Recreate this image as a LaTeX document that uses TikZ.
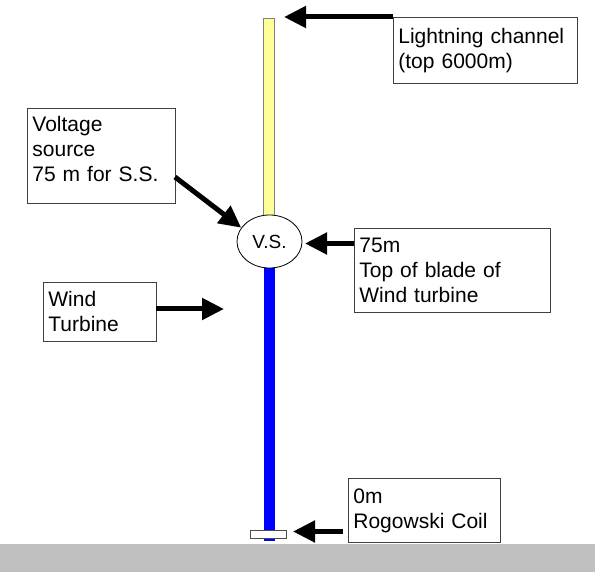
\documentclass[tikz,border=0pt]{standalone}
\usepackage{fontspec}
\setmainfont{Liberation Sans}
\usetikzlibrary{arrows.meta,shapes.geometric,calc}
\definecolor{groundgray}{RGB}{192,192,192}
\definecolor{chanyellow}{RGB}{255,255,153}
\definecolor{boxline}{RGB}{64,64,64}
\newcommand\boxfont{\fontsize{21}{25}\selectfont}
\tikzset{
  textbox/.style={draw=boxline, line width=0.8pt, fill=white, align=left,
    inner xsep=5pt, inner ysep=0pt, font=\boxfont, anchor=north west},
  bigarrow/.style={line width=5pt, -{Triangle[length=22pt,width=21pt]}},
  pole/.style={draw=none, minimum width=11pt, inner sep=0pt, anchor=north},
}
\begin{document}
\begin{tikzpicture}[x=1pt,y=-1pt]
\useasboundingbox (0,0) rectangle (595,572);
% ground
\fill[groundgray] (0,544) rectangle (595,572);
% poles
\node[pole, fill=chanyellow, draw=black!50, line width=0.6pt, minimum height=199pt] (chan) at (269,18) {};
\node[pole, fill=blue, minimum height=274pt] (tower) at (269,267) {};
% voltage source
\node[ellipse, draw=black, line width=0.8pt, fill=white, minimum width=65pt, minimum height=53pt,
      inner sep=0pt, font=\fontsize{19}{21}\selectfont] (vs) at (269.5,241.5) {V.S.};
% Rogowski coil
\node[draw=black!70, line width=0.8pt, fill=white, minimum width=36pt, minimum height=8pt, inner sep=0pt] (coil) at (268.5,534.5) {};
% boxes
\node[textbox, text width=174pt, minimum height=66pt] (lbox) at (393,17) {Lightning channel\\(top 6000m)};
\node[textbox, text width=138pt, minimum height=95pt] (vbox) at (27,108) {Voltage\\source\\75 m for S.S.\\[-11pt]\mbox{}};
\node[textbox, text width=186pt, minimum height=84pt] (tbox) at (354,228) {75m\\Top of blade of\\Wind turbine};
\node[textbox, text width=103pt, minimum height=59pt] (wbox) at (43,282) {Wind\\Turbine};
\node[textbox, text width=142pt, minimum height=64pt] (rbox) at (348,478) {0m\\Rogowski Coil};
% arrow end points
\coordinate (tipL) at (284,17);
\coordinate (startV) at (175,177);
\coordinate (tipT) at (305,243.5);
\coordinate (startT) at (354,243.5);
\coordinate (tipW) at (224,309);
\coordinate (startW) at (156,309);
\coordinate (tipR) at (293,531.5);
\coordinate (startR) at (343,531.5);
% arrows
\draw[bigarrow] (lbox.north west) -- (tipL);
\draw[bigarrow] (startV) -- (vs.154);
\draw[bigarrow] (startT) -- (tipT);
\draw[bigarrow] (startW) -- (tipW);
\draw[bigarrow] (startR) -- (tipR);
\end{tikzpicture}
\end{document}
